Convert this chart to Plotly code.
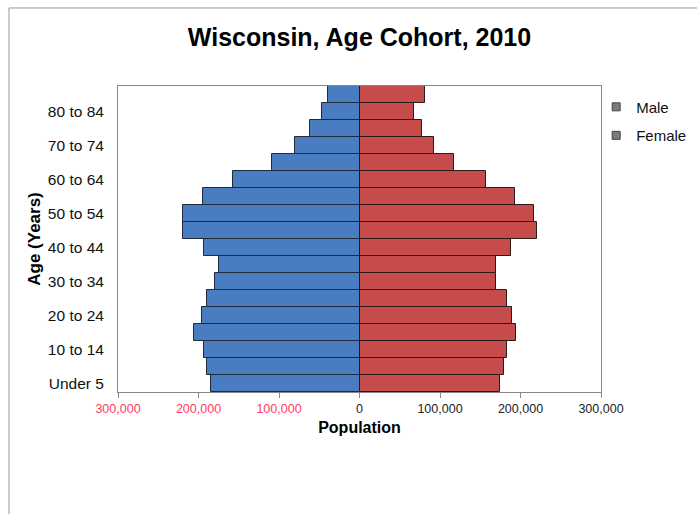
import plotly.graph_objects as go

# Age cohorts, youngest first
age_groups = ["Under 5", "5 to 9", "10 to 14", "15 to 19", "20 to 24", "25 to 29",
              "30 to 34", "35 to 39", "40 to 44", "45 to 49", "50 to 54", "55 to 59",
              "60 to 64", "65 to 69", "70 to 74", "75 to 79", "80 to 84", "85+"]

male = [184000, 189000, 193000, 206000, 196000, 190000, 179000, 175000, 193000,
        219000, 219000, 194000, 157000, 109000, 80000, 62000, 47000, 39000]

female = [174000, 179000, 183000, 194000, 189000, 183000, 170000, 170000, 188000,
          220000, 217000, 193000, 157000, 117000, 92000, 78000, 68000, 81000]

shown_ages = ["Under 5", "10 to 14", "20 to 24", "30 to 34", "40 to 44",
              "50 to 54", "60 to 64", "70 to 74", "80 to 84"]

x_ticks = [-300000, -200000, -100000, 0, 100000, 200000, 300000]

FONT = "Liberation Sans, Arial, sans-serif"
NEG_COLOR = "#ff3b5f"


def tick_label(v):
    txt = f"{abs(v):,}"
    if v < 0:
        return f"<span style='color:{NEG_COLOR}'>{txt}</span>"
    return txt


fig = go.Figure()

fig.add_trace(go.Bar(
    y=age_groups, x=[-v for v in male], orientation="h", name="Male",
    marker=dict(color="#4a7cc2", line=dict(color="#1f2a3a", width=1)),
    showlegend=False,
))
fig.add_trace(go.Bar(
    y=age_groups, x=female, orientation="h", name="Female",
    marker=dict(color="#c64c4b", line=dict(color="#2a1a1a", width=1)),
    showlegend=False,
))

# Legend keys: small grey squares
for nm in ["Male", "Female"]:
    fig.add_trace(go.Scatter(
        x=[None], y=[None], mode="markers", name=nm, legendgroup=nm,
        marker=dict(symbol="square", size=8, color="#7a7a7a",
                    line=dict(color="#444444", width=1)),
    ))

fig.update_layout(
    width=697, height=514,
    margin=dict(l=118, r=96, t=86, b=122, autoexpand=False),
    paper_bgcolor="white", plot_bgcolor="white",
    barmode="relative", bargap=0,
    font=dict(family=FONT, size=14, color="#111111"),
    title=dict(text="<b>Wisconsin, Age Cohort, 2010</b>", x=0.5, xanchor="center",
               xref="paper", y=1 - 37 / 514, yref="container", yanchor="middle",
               font=dict(size=25, color="#000000")),
    legend=dict(x=0.99, y=0.985, xanchor="left", yanchor="top",
                font=dict(size=15, color="#111111"), traceorder="grouped",
                tracegroupgap=6, itemwidth=30, bgcolor="rgba(0,0,0,0)"),
    xaxis=dict(
        range=[-300000, 300000], tickmode="array", tickvals=x_ticks,
        ticktext=[tick_label(v) for v in x_ticks],
        tickfont=dict(size=12.5, color="#222222"),
        showgrid=False, zeroline=False,
        showline=True, linecolor="#888888", linewidth=1, mirror=True,
        ticks="outside", ticklen=5, tickcolor="#888888",
        title=dict(text="<b>Population</b>", font=dict(size=16, color="#000000"), standoff=6),
    ),
    yaxis=dict(
        type="category", categoryorder="array", categoryarray=age_groups,
        tickmode="array", tickvals=shown_ages, ticktext=shown_ages,
        tickfont=dict(size=15.5, color="#111111"), ticklabelstandoff=10,
        showgrid=False, zeroline=False,
        showline=True, linecolor="#888888", linewidth=1, mirror=True,
        ticks="",
        title=dict(text="<b>Age (Years)</b>", font=dict(size=17, color="#000000"), standoff=2),
    ),
    shapes=[dict(type="rect", xref="paper", yref="paper",
                 x0=-0.2257, x1=1.4, y0=-1.0, y1=1.255,
                 line=dict(color="#999999", width=1), fillcolor="rgba(0,0,0,0)",
                 layer="below")],
)

fig.write_html("out.html")
